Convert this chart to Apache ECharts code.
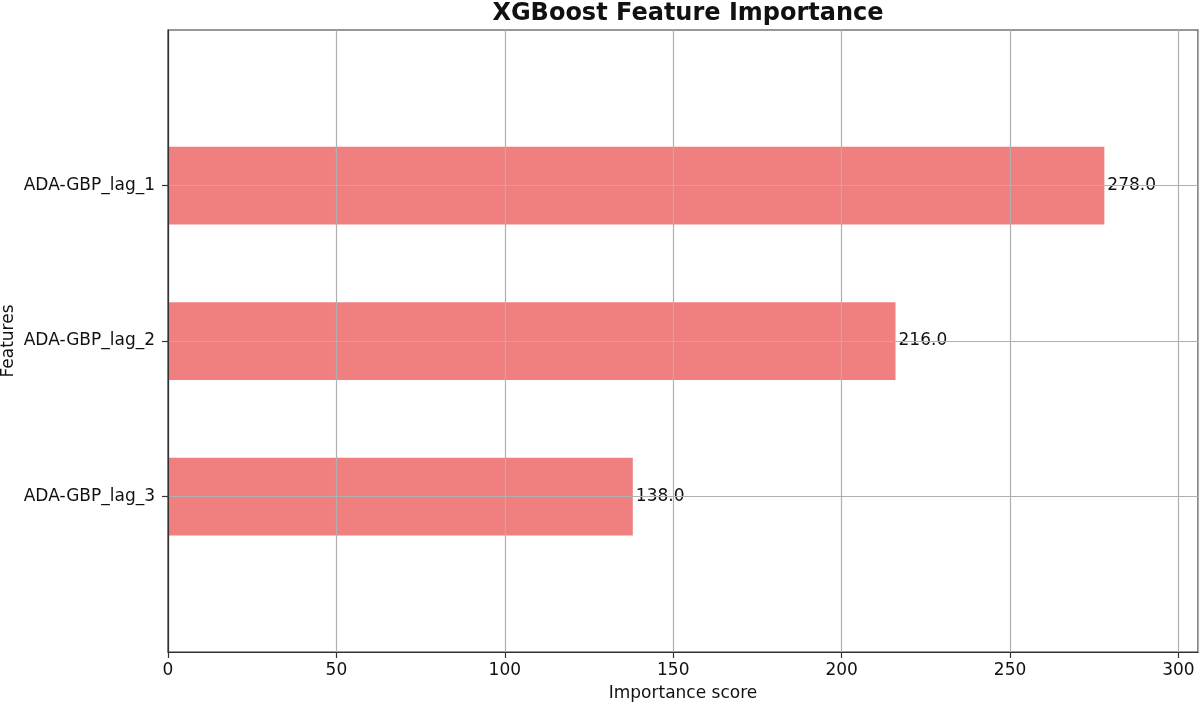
<!DOCTYPE html>
<html>
<head>
<meta charset="utf-8">
<script src="https://cdn.jsdelivr.net/npm/echarts@6/dist/echarts.min.js"></script>
<style>html,body{margin:0;padding:0;background:#fff}#c{width:1200px;height:707px}</style>
</head>
<body>
<div id="c"></div>
<script>
// Categories (bottom to top), padded with empty slots to reproduce the ylim (-1, n)
const categories = ['', 'ADA-GBP_lag_3', 'ADA-GBP_lag_2', 'ADA-GBP_lag_1', ''];
const importance = [null, 138, 216, 278, null];
const xTicks = [0, 50, 100, 150, 200, 250, 300];
const xMax = 305.8;

const FONT = 'DejaVu Sans';
const chart = echarts.init(document.getElementById('c'));
chart.setOption({
  animation: false,
  backgroundColor: '#fff',
  title: {
    text: 'XGBoost Feature Importance',
    left: 683, top: -3, textAlign: 'center',
    textStyle: { fontFamily: FONT, fontSize: 24, fontWeight: 'bold', color: '#111' }
  },
  grid: {
    left: 168, right: 2, top: 30, bottom: 55,
    containLabel: false, outerBoundsMode: 'none',
    show: true, borderColor: '#333', borderWidth: 1.2, backgroundColor: 'transparent'
  },
  xAxis: {
    type: 'value', min: xTicks[0], max: xMax, interval: 50, z: 3,
    name: 'Importance score', nameLocation: 'middle', nameGap: 33, nameMoveOverlap: false,
    nameTextStyle: { fontFamily: FONT, fontSize: 17, color: '#111' },
    axisLine: { show: true, lineStyle: { color: '#333', width: 1.2 } },
    axisTick: { show: true, length: 6, lineStyle: { color: '#333', width: 1.2 } },
    axisLabel: { fontFamily: FONT, fontSize: 17, color: '#111', margin: 10, showMaxLabel: false },
    splitLine: { show: true, lineStyle: { color: '#b0b0b0', width: 1.2 } }
  },
  yAxis: {
    type: 'category', data: categories, boundaryGap: false, z: 3,
    name: 'Features', nameLocation: 'middle', nameGap: 151, nameMoveOverlap: false,
    nameTextStyle: { fontFamily: FONT, fontSize: 17, color: '#111' },
    axisLine: { show: true, lineStyle: { color: '#333', width: 1.2 } },
    axisTick: { show: true, length: 6, interval: (i, v) => v !== '', lineStyle: { color: '#333', width: 1.2 } },
    axisLabel: { fontFamily: FONT, fontSize: 17, color: '#111', margin: 13, interval: (i, v) => v !== '' },
    splitLine: { show: true, interval: (i, v) => v !== '', lineStyle: { color: '#b0b0b0', width: 1.2 } }
  },
  series: [{
    type: 'bar',
    data: importance,
    barWidth: '50%',
    z: 2,
    itemStyle: { color: '#F08080' },
    label: {
      show: true, position: 'right', distance: 3,
      fontFamily: FONT, fontSize: 17, color: '#111',
      formatter: p => p.value == null ? '' : Number(p.value).toFixed(1)
    }
  }]
});
</script>
</body>
</html>
